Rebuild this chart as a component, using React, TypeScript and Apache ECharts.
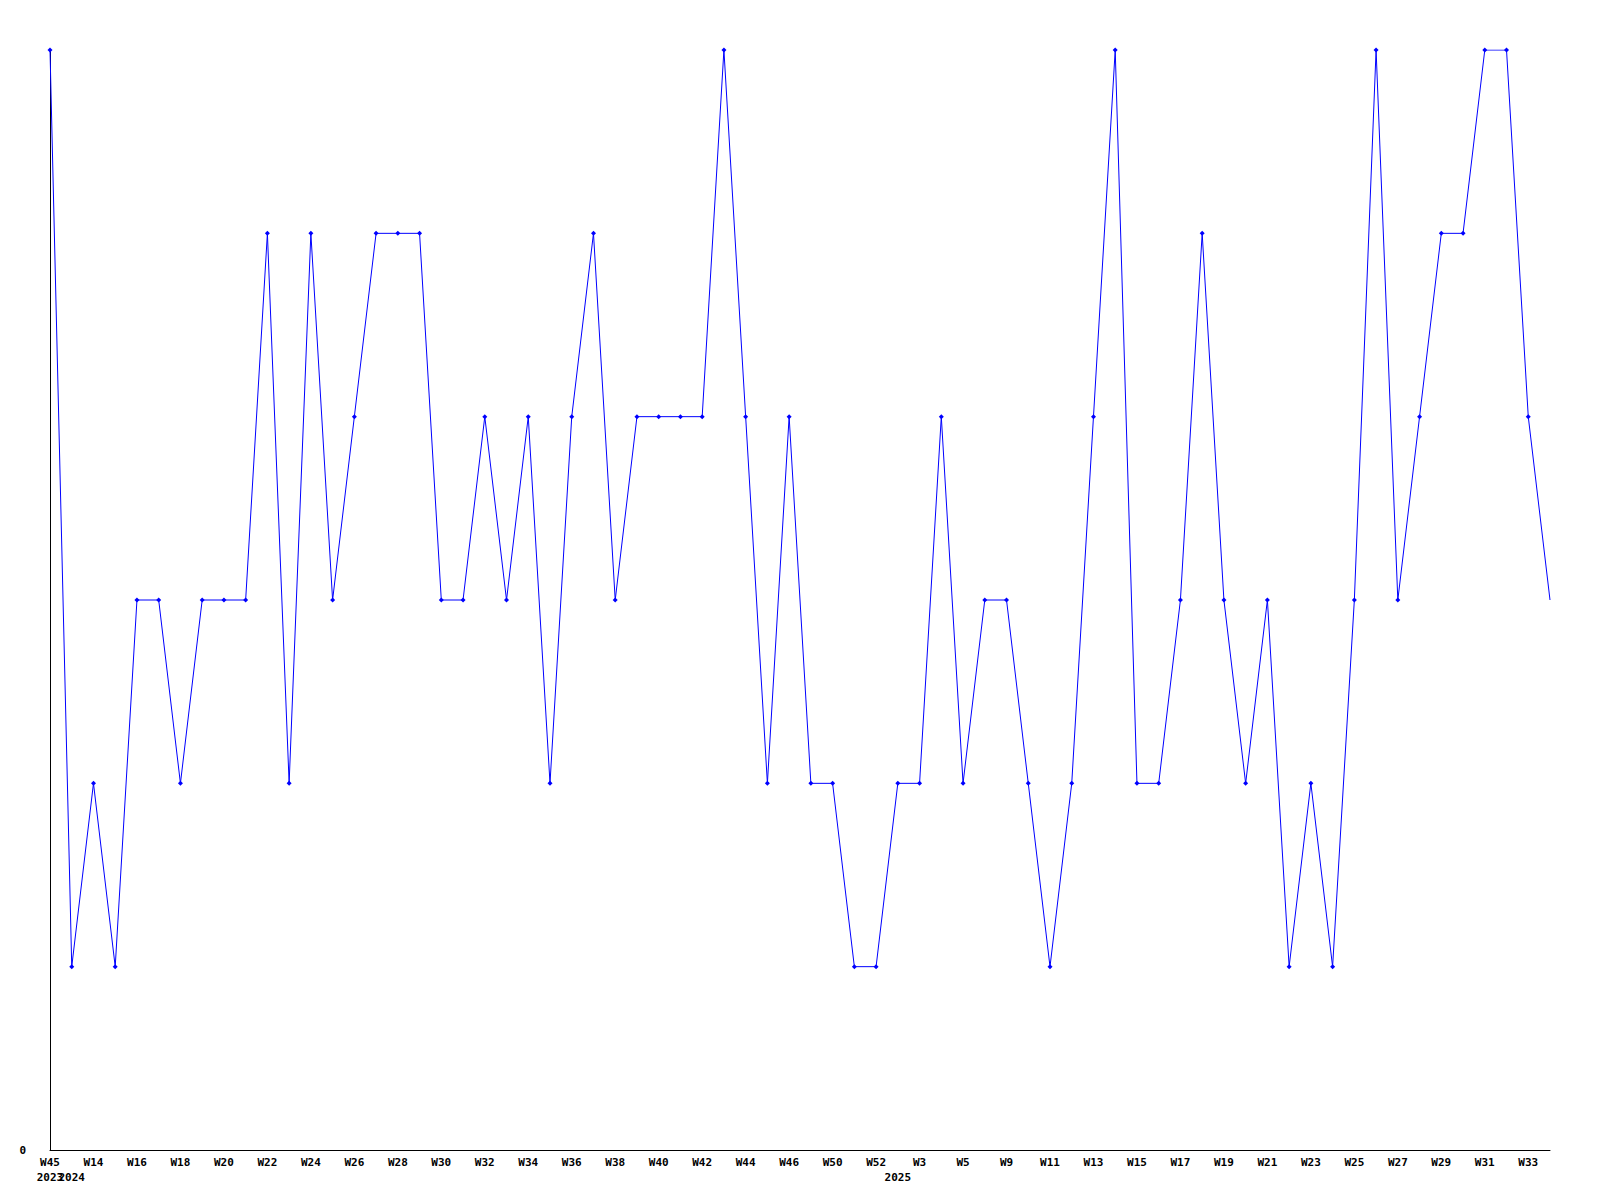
import React, { useEffect, useRef } from "react";
import * as echarts from "echarts";

const weeks = [
  "W45", "W13", "W14", "W15", "W16", "W17", "W18", "W19", "W20", "W21",
  "W22", "W23", "W24", "W25", "W26", "W27", "W28", "W29", "W30", "W31",
  "W32", "W33", "W34", "W35", "W36", "W37", "W38", "W39", "W40", "W41",
  "W42", "W43", "W44", "W45", "W46", "W48", "W50", "W51", "W52", "W1",
  "W3", "W4", "W5", "W7", "W9", "W10", "W11", "W12", "W13", "W14",
  "W15", "W16", "W17", "W18", "W19", "W20", "W21", "W22", "W23", "W24",
  "W25", "W26", "W27", "W28", "W29", "W30", "W31", "W32", "W33", "W34",
];

const yearsA: Record<number, string> = { 0: "2023" };
const yearsB: Record<number, string> = { 1: "2024", 39: "2025" };

const values = [
  6, 1, 2, 1, 3, 3, 2, 3, 3, 3,
  5, 2, 5, 3, 4, 5, 5, 5, 3, 3,
  4, 3, 4, 2, 4, 5, 3, 4, 4, 4,
  4, 6, 4, 2, 4, 2, 2, 1, 1, 2,
  2, 4, 2, 3, 3, 2, 1, 2, 4, 6,
  2, 2, 3, 5, 3, 2, 3, 1, 2, 1,
  3, 6, 3, 4, 5, 5, 6, 6, 4, 3,
];

const yTicks = ["0"];

export default function App() {
  const ref = useRef<HTMLDivElement>(null);
  useEffect(() => {
    if (!ref.current) return;
    const chart = echarts.init(ref.current, null, { renderer: "svg" });
    const font = "DejaVu Sans Mono";
    const seriesData = values.map((v, i) =>
      i === values.length - 1 ? { value: v, symbol: "none" } : v
    );
    const labelStyle = {
      color: "#000000",
      fontFamily: font,
      fontWeight: "bold",
      fontSize: 11,
    };
    const yearAxis = (map: Record<number, string>, extra: any) => ({
      type: "category",
      data: weeks,
      boundaryGap: false,
      position: "bottom",
      axisLine: { show: false },
      axisTick: { show: false },
      splitLine: { show: false },
      axisLabel: {
        interval: (idx: number) => map[idx] !== undefined,
        formatter: (_v: string, idx: number) => map[idx] ?? "",
        margin: 22,
        ...extra,
        ...labelStyle,
      },
    });
    chart.setOption({
      animation: false,
      backgroundColor: "#ffffff",
      grid: { left: 50, right: 50, top: 50, bottom: 50, containLabel: false },
      xAxis: [
        {
          type: "category",
          data: weeks,
          boundaryGap: false,
          axisLine: { show: true, lineStyle: { color: "#000000", width: 1 } },
          axisTick: { show: false },
          splitLine: { show: false },
          axisLabel: { interval: 1, margin: 7, ...labelStyle },
        },
        yearAxis(yearsA, { showMinLabel: true }),
        yearAxis(yearsB, {}),
      ],
      yAxis: {
        type: "value",
        min: 0,
        max: 6,
        interval: 1,
        axisLine: { show: true, lineStyle: { color: "#000000", width: 1 } },
        axisTick: { show: false },
        splitLine: { show: false },
        axisLabel: {
          margin: 24,
          ...labelStyle,
          formatter: (v: number) => (v === 0 ? yTicks[0] : ""),
        },
      },
      series: [
        {
          type: "line",
          data: seriesData,
          xAxisIndex: 0,
          symbol: "diamond",
          symbolSize: 5,
          showAllSymbol: true,
          lineStyle: { color: "#0000ff", width: 1 },
          itemStyle: { color: "#0000ff" },
        },
      ],
    });
    return () => chart.dispose();
  }, []);
  return (
    <div
      ref={ref}
      style={{ position: "fixed", left: 0, top: 0, width: 1600, height: 1200, background: "#fff" }}
    />
  );
}
